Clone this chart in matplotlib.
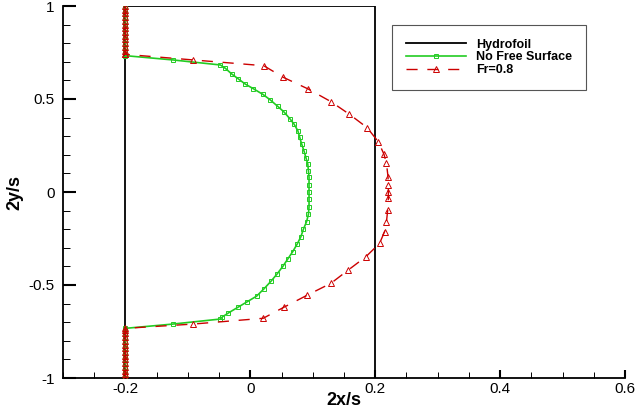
import numpy as np
import matplotlib
matplotlib.use("Agg")
import matplotlib.pyplot as plt
from matplotlib.ticker import MultipleLocator, FixedLocator, FixedFormatter

plt.rcParams['font.family'] = ['Liberation Sans', 'DejaVu Sans']

# hydrofoil outline
foil_x = [-0.2, -0.2, 0.2, 0.2]
foil_y = [-1.0, 1.0, 1.0, -1.0]

# points stacked on the leading edge
stack_top = [1.0, 0.98, 0.96, 0.94, 0.92, 0.90, 0.88, 0.86, 0.84, 0.82, 0.80, 0.78, 0.76, 0.74]
stack_bot = [-0.74, -0.76, -0.78, -0.80, -0.82, -0.84, -0.86, -0.88, -0.90, -0.92, -0.94, -0.96, -0.98, -1.0]

# no free surface
nfs_x = [-0.2, -0.124, -0.048, -0.04, -0.03, -0.02, -0.008, 0.005, 0.02, 0.032, 0.044, 0.054,
         0.063, 0.07, 0.076, 0.079, 0.082, 0.086, 0.089, 0.092, 0.093, 0.094, 0.094, 0.094,
         0.094, 0.094, 0.093, 0.09, 0.085, 0.081, 0.075, 0.068, 0.06, 0.052, 0.043, 0.033,
         0.022, 0.01, -0.005, -0.02, -0.035, -0.045, -0.048, -0.124, -0.2]
nfs_y = [0.733, 0.71, 0.683, 0.665, 0.635, 0.61, 0.58, 0.555, 0.525, 0.495, 0.46, 0.43,
         0.395, 0.365, 0.33, 0.295, 0.26, 0.22, 0.185, 0.15, 0.115, 0.08, 0.04, 0.0,
         -0.04, -0.08, -0.12, -0.16, -0.2, -0.24, -0.28, -0.32, -0.36, -0.4, -0.44, -0.48,
         -0.52, -0.56, -0.59, -0.62, -0.65, -0.672, -0.683, -0.71, -0.733]

# Fr = 0.8
fr_x = [-0.2, -0.0915, 0.0215, 0.0525, 0.0925, 0.129, 0.1586, 0.187, 0.205, 0.214, 0.218,
        0.2205, 0.221, 0.221, 0.221, 0.22, 0.218, 0.215, 0.207, 0.185, 0.157, 0.129, 0.0915,
        0.0535, 0.0205, -0.0915, -0.2]
fr_y = [0.74, 0.71, 0.679, 0.617, 0.554, 0.486, 0.418, 0.346, 0.27, 0.203, 0.154,
        0.082, 0.038, 0.0, -0.034, -0.097, -0.16, -0.213, -0.276, -0.348, -0.419, -0.491, -0.554,
        -0.62, -0.679, -0.71, -0.733]

xticks = [-0.2, 0.0, 0.2, 0.4, 0.6]
xlabels = ['-0.2', '0', '0.2', '0.4', '0.6']
yticks = [-1.0, -0.5, 0.0, 0.5, 1.0]
ylabels = ['-1', '-0.5', '0', '0.5', '1']

green = '#22cc22'
red = '#cc0000'

fig = plt.figure(figsize=(6.4, 4.13), dpi=100)
ax = fig.add_axes([63 / 640, 35 / 413, 562 / 640, 372 / 413])

ax.plot(foil_x, foil_y, color='black', lw=1.3, label='Hydrofoil', zorder=2)

gx = [-0.2] * len(stack_top) + nfs_x + [-0.2] * len(stack_bot)
gy = stack_top + nfs_y + stack_bot
ax.plot(gx, gy, color=green, lw=1.2, marker='s', ms=3.2, mfc='none', mec=green,
        mew=0.7, label='No Free Surface', zorder=3)

rx = [-0.2] * len(stack_top) + fr_x + [-0.2] * len(stack_bot)
ry = stack_top + fr_y + stack_bot
ax.plot(rx, ry, color=red, lw=1.0, dashes=(8, 7), marker='^', ms=4.5, mfc='none',
        mec=red, mew=0.7, label='Fr=0.8', zorder=4)

ax.set_xlim(-0.3, 0.6)
ax.set_ylim(-1, 1)
ax.spines['top'].set_visible(False)
ax.spines['right'].set_visible(False)
ax.spines['left'].set_linewidth(1.3)
ax.spines['bottom'].set_linewidth(1.3)

ax.xaxis.set_major_locator(FixedLocator(xticks))
ax.xaxis.set_major_formatter(FixedFormatter(xlabels))
ax.xaxis.set_minor_locator(MultipleLocator(0.05))
ax.yaxis.set_major_locator(FixedLocator(yticks))
ax.yaxis.set_major_formatter(FixedFormatter(ylabels))
ax.yaxis.set_minor_locator(MultipleLocator(0.1))

ax.tick_params(axis='x', which='major', direction='in', length=6, width=1.5, labelsize=11, pad=3)
ax.tick_params(axis='x', which='minor', direction='in', length=4, width=0.7)
ax.tick_params(axis='y', which='major', direction='in', length=9, width=1.5, labelsize=11, pad=6)
ax.tick_params(axis='y', which='minor', direction='in', length=5, width=0.7)

ax.set_xlabel('2x/s', fontsize=13, fontweight='bold', labelpad=-3)
ax.set_ylabel('2y/s', fontsize=13, fontweight='bold', labelpad=4)

leg = ax.legend(loc='upper left', bbox_to_anchor=(392 / 640, 1 - 25 / 413),
                bbox_transform=fig.transFigure, fancybox=False, edgecolor='#555555',
                framealpha=1, borderpad=1.1, handlelength=4.8, handletextpad=0.8,
                labelspacing=0.05, prop={'weight': 'bold', 'size': 9}, borderaxespad=0)
leg.get_frame().set_linewidth(0.8)

fig.savefig('out.png', dpi=100)
